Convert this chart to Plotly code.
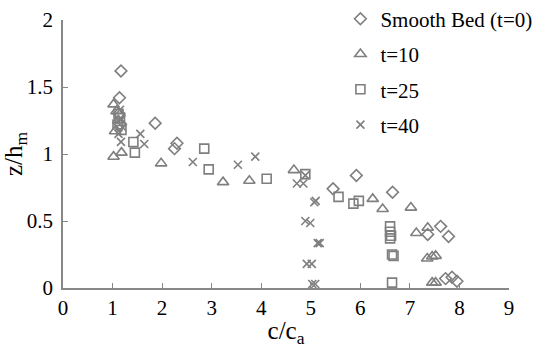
import plotly.graph_objects as go

# Concentration profiles c/c_a against relative height z/h_m
smooth_x = [1.17, 1.14, 1.13, 1.16, 1.86, 2.30, 2.25, 5.45, 5.92, 6.65, 7.36, 7.62, 7.78, 7.72, 7.85, 7.95]
smooth_y = [1.62, 1.42, 1.30, 1.22, 1.23, 1.08, 1.04, 0.74, 0.84, 0.715, 0.40, 0.46, 0.385, 0.07, 0.08, 0.05]

t10_x = [1.02, 1.08, 1.05, 1.12, 1.02, 1.18, 1.98, 3.23, 3.76, 4.66, 6.25, 6.45, 7.02, 7.13, 7.36,
         7.35, 7.45, 7.52, 7.45, 7.52]
t10_y = [1.37, 1.32, 1.17, 1.25, 0.98, 1.01, 0.93, 0.79, 0.80, 0.88, 0.665, 0.59, 0.60, 0.41, 0.45,
         0.22, 0.235, 0.24, 0.04, 0.04]

t25_x = [1.12, 1.15, 1.10, 1.18, 1.42, 1.45, 2.85, 2.94, 4.11, 4.89, 5.56, 5.86, 5.97, 6.60, 6.60,
         6.62, 6.60, 6.64, 6.67, 6.64]
t25_y = [1.30, 1.27, 1.22, 1.18, 1.09, 1.01, 1.04, 0.885, 0.815, 0.85, 0.68, 0.63, 0.65, 0.46, 0.42,
         0.39, 0.37, 0.25, 0.24, 0.04]

t40_x = [1.15, 1.18, 1.20, 1.12, 1.17, 1.56, 1.64, 2.62, 3.53, 3.88, 4.72, 4.85, 4.89, 5.07, 5.10,
         4.89, 4.99, 5.14, 5.18, 4.92, 5.02, 5.03, 5.09]
t40_y = [1.33, 1.26, 1.20, 1.15, 1.09, 1.15, 1.075, 0.94, 0.92, 0.98, 0.78, 0.78, 0.84, 0.64, 0.65,
         0.50, 0.485, 0.335, 0.335, 0.18, 0.18, 0.03, 0.03]

series = [
    ("Smooth Bed (t=0)", smooth_x, smooth_y, "diamond-open", 9),
    ("t=10", t10_x, t10_y, "triangle-up-open", 10),
    ("t=25", t25_x, t25_y, "square-open", 9),
    ("t=40", t40_x, t40_y, "x-thin-open", 8),
]

GREY = "#7f7f7f"
AXIS = "#888888"
FONT = "Liberation Serif"

fig = go.Figure()
for i, (name, xs, ys, sym, size) in enumerate(series):
    fig.add_trace(go.Scatter(
        x=xs, y=ys, mode="markers", name=name, legendgroup=str(i),
        cliponaxis=False,
        marker=dict(symbol=sym, size=size, color=GREY,
                    line=dict(color=GREY, width=1.6)),
    ))

fig.update_layout(
    width=545, height=348,
    margin=dict(l=63, r=36, t=20, b=60, autoexpand=False),
    paper_bgcolor="white", plot_bgcolor="white",
    font=dict(family=FONT, size=21, color="black"),
    showlegend=True,
    legend=dict(x=0.622, y=1.08, xanchor="left", yanchor="top",
                bgcolor="rgba(0,0,0,0)", tracegroupgap=5,
                font=dict(family=FONT, size=21, color="black")),
    xaxis=dict(range=[0, 9], dtick=1, tick0=0, ticks="inside", ticklen=5,
               tickcolor=AXIS, showline=True, linecolor=AXIS, linewidth=1.5,
               showgrid=False, zeroline=False, automargin=False,
               title=dict(text="c/c<sub>a</sub>", standoff=4)),
    yaxis=dict(range=[0, 2], dtick=0.5, tick0=0, ticks="inside", ticklen=5,
               tickcolor=AXIS, showline=True, linecolor=AXIS, linewidth=1.5,
               showgrid=False, zeroline=False, automargin=False, ticklabelstandoff=4,
               title=dict(text="z/h<sub>m</sub>", standoff=6)),
)

fig.write_html("out.html")
